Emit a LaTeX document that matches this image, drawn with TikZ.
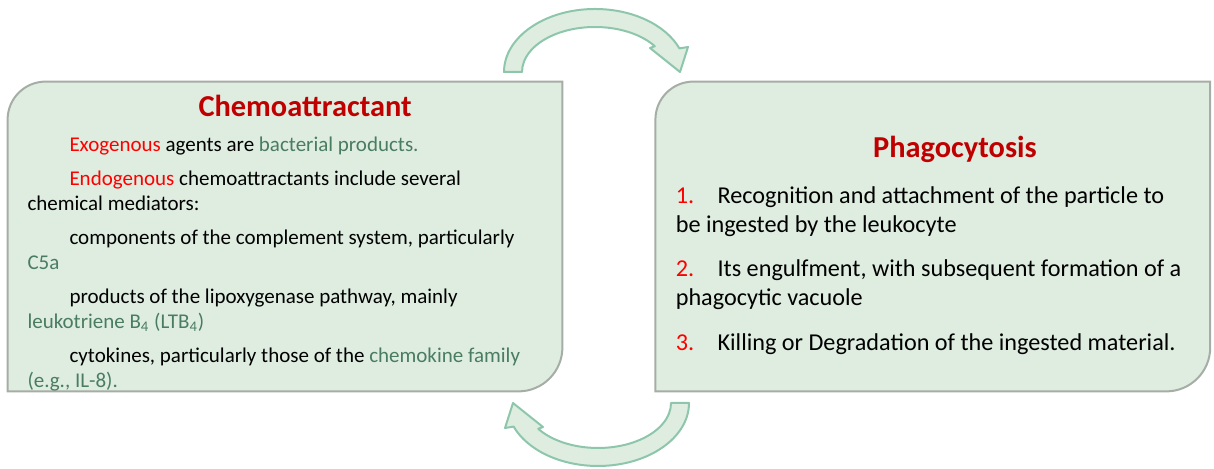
\documentclass[tikz,border=0pt]{standalone}
\usepackage{fontspec}
\setmainfont{Carlito}
\usepackage{xcolor}
\usetikzlibrary{positioning}

\definecolor{panelfill}{HTML}{DEEDE0}
\definecolor{panelgray}{HTML}{A6ADA6}
\definecolor{arrowline}{HTML}{8EC6AC}
\definecolor{titlered}{HTML}{C00000}
\definecolor{keyred}{HTML}{FF0000}
\definecolor{keygreen}{HTML}{4A7C62}

\begin{document}
\begin{tikzpicture}[
    x=0.5pt, y=0.5pt,
    panel/.style={rectangle, minimum width=277pt, minimum height=154.5pt, inner sep=0pt},
    panelline/.style={draw=panelgray, fill=panelfill, line width=1pt},
    heading/.style={font=\fontsize{15.2}{17}\selectfont\bfseries, text=titlered, inner sep=0pt},
    leftbody/.style={font=\fontsize{10.5}{12.5}\selectfont, align=left, inner sep=0pt},
    rightbody/.style={font=\fontsize{12.1}{14.5}\selectfont, align=left, inner sep=0pt},
    turnarrow/.pic={
        \filldraw[draw=arrowline, fill=panelfill, line width=1pt, line join=round]
            (-91,0) arc[start angle=180, end angle=22, x radius=91, y radius=63]
            -- (93,25) -- (85,0) -- (55,24)
            -- (59.8,25.8) arc[start angle=35, end angle=180, x radius=73, y radius=45]
            -- cycle;
    }
]
    \useasboundingbox (0,0) rectangle (1214,469);

    % Panels
    \node[panel] (chemo) at (285,232.5) {};
    \node[panel, right=46.5pt of chemo] (phago) {};

    \filldraw[panelline] (chemo.south west) -- ([yshift=-19pt]chemo.north west)
        arc[start angle=180, end angle=90, radius=19pt] -- (chemo.north east)
        -- ([yshift=22pt]chemo.south east) arc[start angle=0, end angle=-90, radius=22pt] -- cycle;
    \filldraw[panelline] (phago.south west) -- ([yshift=-19pt]phago.north west)
        arc[start angle=180, end angle=90, radius=19pt] -- (phago.north east)
        -- ([yshift=22pt]phago.south east) arc[start angle=0, end angle=-90, radius=22pt] -- cycle;

    % Chemoattractant text (base = last line)
    \node[heading, anchor=base] (chemotitle) at ([shift={(297.5,-34.7)}]chemo.north west) {Chemoattractant};
    \node[leftbody, anchor=base west] (chemotext) at ([shift={(19.5,-306)}]chemo.north west) {%
        \hspace*{21pt}{\color{keyred}Exogenous} agents are {\color{keygreen}bacterial products.}\\[4.5pt]
        \hspace*{21pt}{\color{keyred}Endogenous} chemoattractants include several\\
        chemical mediators:\\[4.5pt]
        \hspace*{21pt}components of the complement system, particularly\\
        {\color{keygreen}C5a}\\[4.5pt]
        \hspace*{21pt}products of the lipoxygenase pathway, mainly\\
        {\color{keygreen}leukotriene B\textsubscript{4} (LTB\textsubscript{4})}\\[4.5pt]
        \hspace*{21pt}cytokines, particularly those of the {\color{keygreen}chemokine family}\\
        {\color{keygreen}(e.g., IL-8).}};

    % Phagocytosis text
    \node[heading, anchor=base] (phagotitle) at ([shift={(299.5,-76.3)}]phago.north west) {Phagocytosis};
    \node[rightbody, anchor=base west] (phagotext) at ([shift={(20,-268.7)}]phago.north west) {%
        \makebox[20.9pt][l]{\color{keyred}1.}Recognition and attachment of the particle to\\
        be ingested by the leukocyte\\[7.75pt]
        \makebox[20.9pt][l]{\color{keyred}2.}Its engulfment, with subsequent formation of a\\
        phagocytic vacuole\\[7.75pt]
        \makebox[20.9pt][l]{\color{keyred}3.}Killing or Degradation of the ingested material.};

    % Cycle arrows
    \pic (upper) at (595,397) {turnarrow};
    \pic[rotate=180] (lower) at (598,66) {turnarrow};
\end{tikzpicture}
\end{document}
